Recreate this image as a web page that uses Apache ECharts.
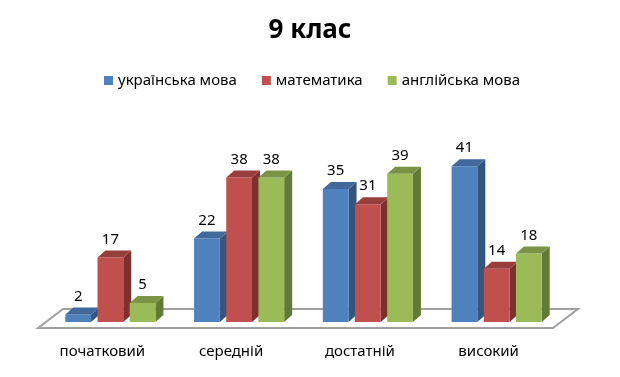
<!DOCTYPE html>
<html>
<head>
<meta charset="utf-8">
<script src="https://cdn.jsdelivr.net/npm/echarts@6/dist/echarts.min.js"></script>
<style>
  html, body { margin: 0; padding: 0; background: #fff; }
  #chart { width: 620px; height: 377px; }
</style>
</head>
<body>
<div id="chart"></div>
<script>
const categories = ['початковий', 'середній', 'достатній', 'високий']
const seriesNames = ['українська мова', 'математика', 'англійська мова']
const ukrainian = [2, 22, 35, 41]
const maths = [17, 38, 31, 14]
const english = [5, 38, 39, 18]

// front / top / side shades, Office-like palette
const palette = [
  { front: '#4F81BD', top: '#41699B', side: '#33557E' },
  { front: '#C0504D', top: '#983E3C', side: '#7E302F' },
  { front: '#9BBB59', top: '#7A9445', side: '#637937' },
]

const FONT = '"Noto Sans", sans-serif'
const DX = 8
const DY = 7
const BAR_W = 0.2

const bar3d = (offset, colors) => (params, api) => {
  const top = api.coord([api.value(0), api.value(1)])
  const base = api.coord([api.value(0), 0])
  const band = api.size([1, 0])[0]
  const w = band * BAR_W
  const x0 = top[0] + band * offset - w / 2
  const x1 = x0 + w
  const yt = top[1]
  const yb = base[1]
  return {
    type: 'group',
    children: [
      {
        type: 'polygon',
        shape: { points: [[x1, yb], [x1, yt], [x1 + DX, yt - DY], [x1 + DX, yb - DY]] },
        style: { fill: colors.side },
      },
      {
        type: 'rect',
        shape: { x: x0, y: yt, width: w, height: yb - yt },
        style: { fill: colors.front },
      },
      {
        type: 'polygon',
        shape: { points: [[x0, yt], [x1, yt], [x1 + DX, yt - DY], [x0 + DX, yt - DY]] },
        style: { fill: colors.top },
      },
      {
        type: 'text',
        style: {
          text: String(api.value(1)),
          x: (x0 + x1) / 2,
          y: yt - 18,
          align: 'center',
          verticalAlign: 'middle',
          fill: '#000',
          font: '15px ' + FONT,
        },
      },
    ],
  }
}

const renderFloor = (params, api) => {
  const cs = params.coordSys
  const yb = cs.y + cs.height
  const L = cs.x
  const R = cs.x + cs.width
  return {
    type: 'polygon',
    shape: {
      points: [[L - 8, yb + 6], [L + 17, yb - 13], [R + 17, yb - 13], [R - 8, yb + 6]],
    },
    style: { fill: '#fff', stroke: '#a0a0a0', lineWidth: 2 },
  }
}

const chart = echarts.init(document.getElementById('chart'))

const makeSeries = (name, values, offset, colors) => ({
  name,
  type: 'custom',
  renderItem: bar3d(offset, colors),
  itemStyle: { color: colors.front },
  data: values.map((v, i) => [i, v]),
  encode: { x: 0, y: 1 },
  z: 3,
})

chart.setOption({
  animation: false,
  title: {
    text: '9 клас',
    left: 'center',
    top: 13,
    textStyle: { fontFamily: FONT, fontSize: 26, fontWeight: 'bold', color: '#000' },
  },
  legend: {
    data: seriesNames,
    top: 68,
    left: 99,
    icon: 'rect',
    itemWidth: 9,
    itemHeight: 9,
    itemGap: 25,
    textStyle: { fontFamily: FONT, fontSize: 15, color: '#000' },
  },
  grid: { left: 46, right: 59, top: 151, bottom: 55 },
  xAxis: {
    type: 'category',
    data: categories,
    axisLine: { show: false },
    axisTick: { show: false },
    axisLabel: {
      fontFamily: FONT,
      fontSize: 15,
      color: '#000',
      margin: 22,
      padding: [0, 16, 0, 0],
    },
  },
  yAxis: {
    type: 'value',
    min: 0,
    max: 45,
    show: false,
    splitLine: { show: false },
  },
  series: [
    {
      type: 'custom',
      renderItem: renderFloor,
      data: [[0, 0]],
      silent: true,
      z: 1,
    },
    makeSeries(seriesNames[0], ukrainian, -0.25, palette[0]),
    makeSeries(seriesNames[1], maths, 0, palette[1]),
    makeSeries(seriesNames[2], english, 0.25, palette[2]),
  ],
})
</script>
</body>
</html>
